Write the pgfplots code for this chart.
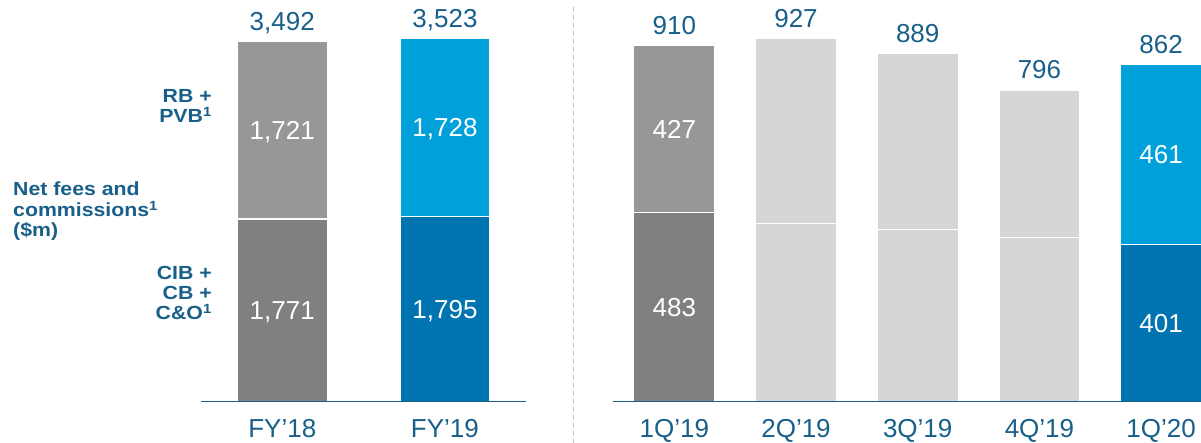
\documentclass[border=0pt]{standalone}
\usepackage{pgfplots}
\pgfplotsset{compat=1.18}
\usepackage{fontspec}
\setmainfont{Liberation Sans}
\newfontfamily\lblfamily[FakeStretch=1.12]{Liberation Sans}
\definecolor{tblue}{RGB}{24,95,138}
\definecolor{gtop}{RGB}{151,151,151}
\definecolor{gbot}{RGB}{128,128,128}
\definecolor{btop}{RGB}{0,161,219}
\definecolor{bbot}{RGB}{0,116,176}
\definecolor{lg}{RGB}{213,214,216}
\definecolor{sepc}{RGB}{192,192,192}
\newcommand{\vfont}{\fontsize{26}{30}\selectfont}
\newcommand{\lfont}{\lblfamily\fontsize{19}{21}\selectfont\bfseries}
\pgfplotsset{
  panel/.style={
    scale only axis, anchor=south west, ymin=0,
    axis y line=none, axis x line*=bottom, axis on top,
    x axis line style={draw=tblue, line width=1.6pt, -},
    major tick length=0pt,
    xticklabel style={font=\vfont, text=tblue, anchor=base, yshift=-36.5pt},
    ybar, bar shift=0pt, clip=false,
    every axis plot/.append style={draw=white, line width=1.2pt},
  },
  tot/.style={
    nodes near coords={\pgfmathprintnumber[assume math mode=true,1000 sep={,}]{\pgfplotspointmeta}},
    nodes near coords style={font=\vfont, text=tblue, anchor=base, yshift=11pt},
  },
}
\tikzset{seg/.style={font=\vfont, text=white, anchor=base, yshift=-9.3pt}}
\begin{document}
\begin{tikzpicture}
\path[use as bounding box] (0,0) rectangle (1201pt,443pt);
% left panel
\begin{axis}[panel, at={(200.9pt,41.5pt)}, width=325.4pt, height=391.7pt,
  xmin=-0.5, xmax=1.5, ymax=3800, bar width=90pt,
  xtick={0,1}, xticklabels={FY’18,FY’19}]
\addplot[fill=gtop, tot] coordinates {(0,3492)};
\addplot[fill=btop, tot] coordinates {(1,3523)};
\addplot[fill=gbot] coordinates {(0,1771)};
\addplot[fill=bbot] coordinates {(1,1795)};
\node[seg] at (axis cs:0,885.5) {1,771};
\node[seg] at (axis cs:0,2631.5) {1,721};
\node[seg] at (axis cs:1,897.5) {1,795};
\node[seg] at (axis cs:1,2659) {1,728};
\end{axis}
% right panel
\begin{axis}[panel, at={(613.45pt,41.5pt)}, width=587.6pt, height=391.4pt,
  xmin=-0.5, xmax=4.328, ymax=1000, bar width=81pt,
  xtick={0,1,2,3,4}, xticklabels={1Q’19,2Q’19,3Q’19,4Q’19,1Q’20}]
\addplot[fill=gtop, tot] coordinates {(0,910)};
\addplot[fill=lg, tot] coordinates {(1,927) (2,889) (3,796)};
\addplot[fill=btop, tot] coordinates {(4,862)};
\addplot[fill=gbot] coordinates {(0,483)};
\addplot[fill=lg] coordinates {(1,454) (2,440) (3,418)};
\addplot[fill=bbot] coordinates {(4,401)};
\node[seg] at (axis cs:0,241.5) {483};
\node[seg] at (axis cs:0,696.5) {427};
\node[seg] at (axis cs:4,200.5) {401};
\node[seg] at (axis cs:4,631.5) {461};
\end{axis}
% separator
\draw[sepc, line width=1pt, dash pattern=on 4pt off 4pt] (573pt,0pt) -- (573pt,438pt);
% side labels
\node[font=\lfont, text=tblue, anchor=base east, inner sep=0pt] at (212pt,340pt) {RB +};
\node[font=\lfont, text=tblue, anchor=base east, inner sep=0pt] at (212pt,320pt) {PVB\textsuperscript{1}};
\node[font=\lfont, text=tblue, anchor=base west, inner sep=0pt] at (13pt,247pt) {Net fees and};
\node[font=\lfont, text=tblue, anchor=base west, inner sep=0pt] at (13pt,226.5pt) {commissions\textsuperscript{1}};
\node[font=\lfont, text=tblue, anchor=base west, inner sep=0pt] at (13pt,206pt) {(\$m)};
\node[font=\lfont, text=tblue, anchor=base east, inner sep=0pt] at (212pt,163.5pt) {CIB +};
\node[font=\lfont, text=tblue, anchor=base east, inner sep=0pt] at (212pt,143.5pt) {CB +};
\node[font=\lfont, text=tblue, anchor=base east, inner sep=0pt] at (212pt,123.5pt) {C\&O\textsuperscript{1}};
\end{tikzpicture}
\end{document}
